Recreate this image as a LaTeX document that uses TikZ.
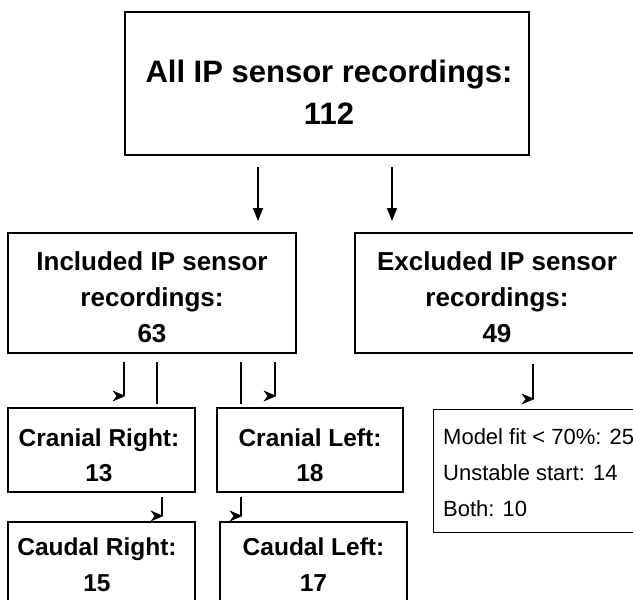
\documentclass[tikz,border=0pt]{standalone}
\usepackage{fontspec}
\setmainfont{Liberation Sans}
\usetikzlibrary{arrows.meta}
\newcommand\harptip[1]{\fill (#1) ++(1.5,0) -- ++(-13,-5.5) -- ++(4,5.5) -- ++(-4,5.5) -- cycle;}
\begin{document}
\begin{tikzpicture}[x=1pt,y=-1pt,
  box/.style={draw, rectangle, line width=2.5pt, inner sep=0pt},
  thinbox/.style={draw, rectangle, line width=0.9pt, inner sep=0pt},
  tbig/.style={font=\fontsize{31}{34}\selectfont\bfseries, inner sep=0pt, anchor=base},
  tmid/.style={font=\fontsize{26}{28}\selectfont\bfseries, inner sep=0pt, anchor=base},
  tsml/.style={font=\fontsize{24.5}{28}\selectfont\bfseries, inner sep=0pt, anchor=base},
  tdet/.style={font=\fontsize{22}{24}\selectfont, inner sep=0pt, anchor=base west},
  bigarrow/.style={line width=1.6pt, -{Triangle[length=13pt,width=10pt]}},
  harp/.style={line width=1.5pt},
  plainline/.style={line width=1.5pt}]
\useasboundingbox (0,0) rectangle (633,600);
\clip (0,0) rectangle (633,600);
% boxes
\node[box, minimum width=404pt, minimum height=143pt] (all) at (327,83.5) {};
\node[box, minimum width=288pt, minimum height=120pt] (inc) at (152,293) {};
\node[box, minimum width=284pt, minimum height=120pt] (exc) at (497,293) {};
\node[box, minimum width=187pt, minimum height=84pt] (cr) at (101.5,450) {};
\node[box, minimum width=186pt, minimum height=84pt] (cl) at (310,450) {};
\node[box, minimum width=187pt, minimum height=100pt] (dr) at (101.5,572) {};
\node[box, minimum width=187pt, minimum height=100pt] (dl) at (313.5,572) {};
\node[thinbox, minimum width=220pt, minimum height=123pt] (det) at (543,470.5) {};
% texts
\node[tbig] (allA) at (329,82) {All IP sensor recordings:};
\node[tbig] (allB) at (329,124) {112};
\node[tmid] (incA) at (152,270) {Included IP sensor};
\node[tmid] (incB) at (152,306) {recordings:};
\node[tmid] (incC) at (152,342) {63};
\node[tmid] (excA) at (497,270) {Excluded IP sensor};
\node[tmid] (excB) at (497,306) {recordings:};
\node[tmid] (excC) at (497,342) {49};
\node[tsml] (crA) at (99,446) {Cranial Right:};
\node[tsml] (crB) at (99,481) {13};
\node[tsml] (clA) at (310,446) {Cranial Left:};
\node[tsml] (clB) at (310,481) {18};
\node[tsml] (drA) at (97,555) {Caudal Right:};
\node[tsml] (drB) at (97,591) {15};
\node[tsml] (dlA) at (313.5,555) {Caudal Left:};
\node[tsml] (dlB) at (313.5,591) {17};
\node[tdet] (detA) at (443,444) {Model fit < 70\%: 25};
\node[tdet] (detB) at (443,480) {Unstable start: 14};
\node[tdet] (detC) at (443,516) {Both: 10};
% connector end points
\coordinate (a1s) at (258,167); \coordinate (a1e) at (258,221);
\coordinate (a2s) at (392,167); \coordinate (a2e) at (392,221);
\coordinate (h1s) at (124,362); \coordinate (h1e) at (124,396);
\coordinate (p1s) at (157,362); \coordinate (p1e) at (157,404);
\coordinate (p2s) at (241,362); \coordinate (p2e) at (241,404);
\coordinate (h2s) at (275,362); \coordinate (h2e) at (275,396);
\coordinate (h3s) at (162,497); \coordinate (h3e) at (162,516);
\coordinate (h4s) at (241,497); \coordinate (h4e) at (241,516);
\coordinate (h5s) at (533,364); \coordinate (h5e) at (533,399);
% connectors
\draw[bigarrow] (a1s) -- (a1e);
\draw[bigarrow] (a2s) -- (a2e);
\draw[plainline] (p1s) -- (p1e);
\draw[plainline] (p2s) -- (p2e);
\foreach \h in {h1,h2,h3,h4,h5}{
  \draw[harp] (\h s) -- (\h e);
  \harptip{\h e}
}
\end{tikzpicture}
\end{document}
